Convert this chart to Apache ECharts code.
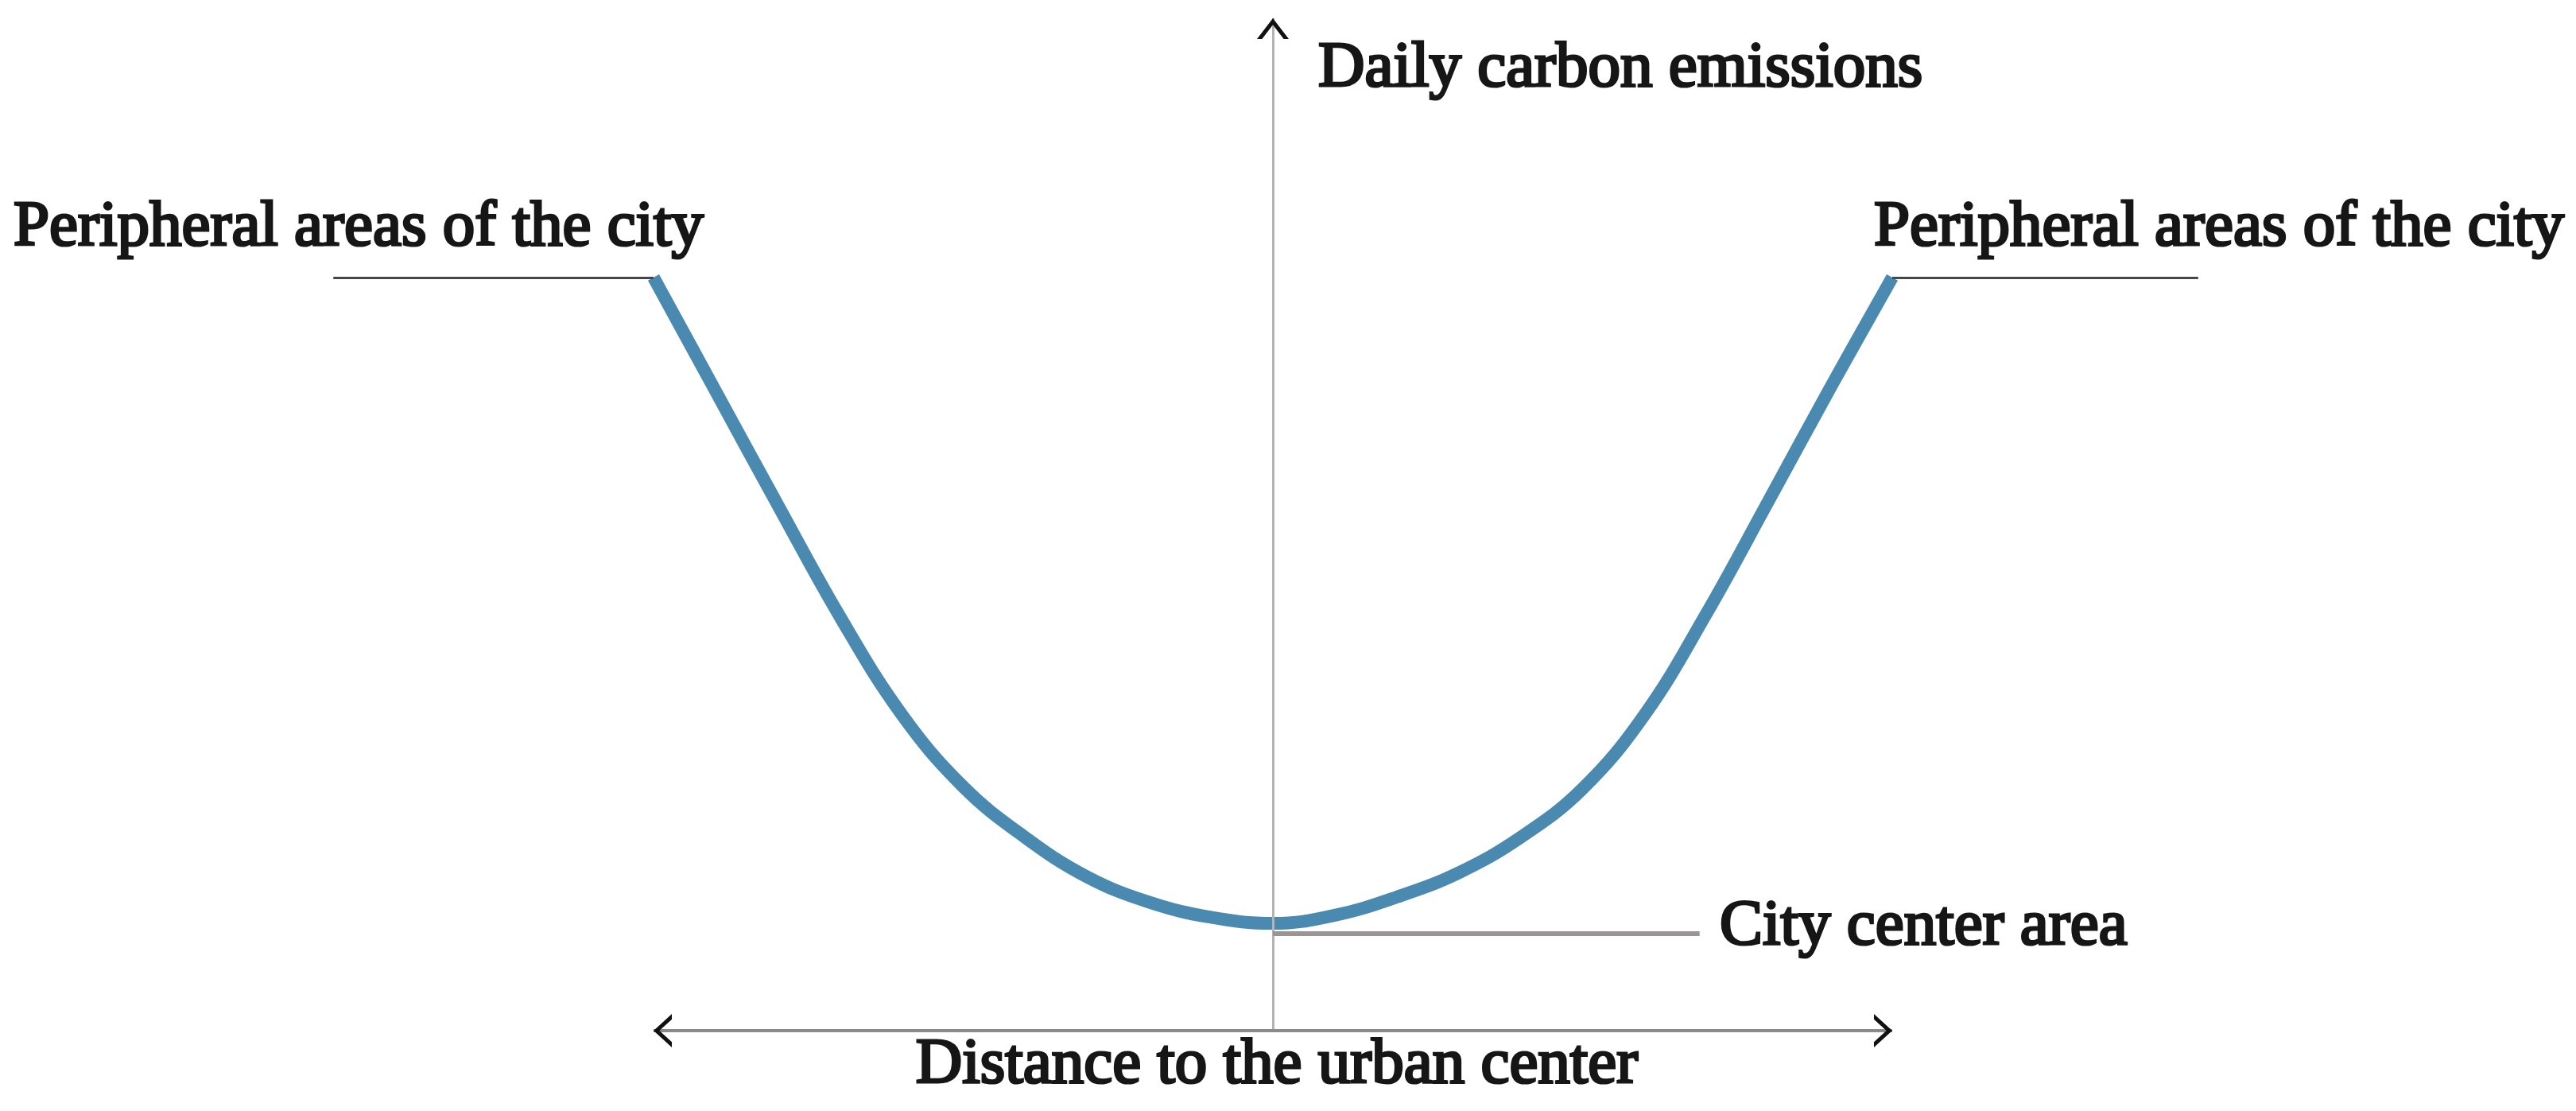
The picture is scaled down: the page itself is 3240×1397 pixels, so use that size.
<!DOCTYPE html>
<html>
<head>
<meta charset="utf-8">
<script src="https://cdn.jsdelivr.net/npm/echarts@6/dist/echarts.min.js"></script>
<style>
html,body{margin:0;padding:0;background:#ffffff;}
#chart{width:3240px;height:1397px;}
</style>
</head>
<body>
<div id="chart"></div>
<script>
// ---- data ----
// distance to the urban center (negative = one side, positive = other side)
const curveX = [-100, -90, -80, -70, -60, -50, -40, -30, -20, -10, 0,
                10, 20, 30, 40, 50, 60, 70, 80, 90, 100];
// daily carbon emissions (relative units)
const curveY = [74.4, 63.2, 52.0, 41.0, 31.3, 24.1, 19.1, 15.2, 12.7, 11.2, 10.6,
                11.4, 13.2, 15.6, 19.1, 23.9, 31.2, 41.2, 52.3, 63.5, 74.4];

const axisSpanX = [-100, 100];
const axisSpanY = [0, 100];
const peripheralLevel = 74.4;
const centerLevel = 9.6;
const leftLeaderX = [-151.7, -100];
const rightLeaderX = [100, 149.4];
const centerLeaderX = [0, 68.9];

const yTitle = 'Daily carbon emissions';
const xTitle = 'Distance to the urban center';
const peripheralText = 'Peripheral areas of the city';
const centerText = 'City center area';

// ---- chart ----
const FONT = '81px "Liberation Serif", "Times New Roman", serif';
const TXT = '#161616';
const chevron = 'path://M-50,100 L0,0 L50,100 L34,100 L0,32 L-34,100 Z M0,-100 L0.5,-100 L0,-100 Z';

function seg(x1, y1, x2, y2, style, sym1, sym2) {
  return [
    Object.assign({coord: [x1, y1], lineStyle: style}, sym1 || {symbol: 'none'}),
    Object.assign({coord: [x2, y2], lineStyle: style}, sym2 || {symbol: 'none'})
  ];
}

const vAxisStyle = {color: '#b4b4b4', width: 3, type: 'solid'};
const hAxisStyle = {color: '#8a8a8a', width: 4, type: 'solid'};
const leaderStyle = {color: '#474747', width: 3, type: 'solid'};
const centerStyle = {color: '#9a9594', width: 6, type: 'solid'};
const arrowStyle = {color: '#111111', width: 1, type: 'solid'};

const topArrow = {symbol: chevron, symbolSize: [40, 52]};
const sideArrow = {symbol: chevron, symbolSize: [42, 46]};
const tip = 0.05;

function txt(x, y, text, align) {
  return {
    type: 'text', x: x, y: y, silent: true, z: 10,
    style: {
      text: text, font: FONT, fill: TXT, stroke: TXT, lineWidth: 3.2,
      align: align || 'left', verticalAlign: 'middle',
      textAlign: align || 'left', textVerticalAlign: 'middle'
    }
  };
}

const chart = echarts.init(document.getElementById('chart'), null, {renderer: 'canvas'});
chart.setOption({
  backgroundColor: '#ffffff',
  animation: false,
  grid: {left: 0, right: 0, top: 0, bottom: 0},
  xAxis: {type: 'value', min: -205.52, max: 210.40, show: false},
  yAxis: {type: 'value', min: -7.93, max: 101.81, show: false},
  series: [
    {
      type: 'line',
      z: 1,
      silent: true,
      data: [],
      markLine: {
        silent: true,
        animation: false,
        symbol: ['none', 'none'],
        label: {show: false},
        emphasis: {disabled: true},
        data: [
          seg(0, axisSpanY[0], 0, axisSpanY[1], vAxisStyle),
          seg(axisSpanX[0], 0, axisSpanX[1], 0, hAxisStyle),
          seg(0, axisSpanY[1] - tip, 0, axisSpanY[1], arrowStyle, null, topArrow),
          seg(axisSpanX[0] + tip, 0, axisSpanX[0], 0, arrowStyle, null, sideArrow),
          seg(axisSpanX[1] - tip, 0, axisSpanX[1], 0, arrowStyle, null, sideArrow),
          seg(leftLeaderX[0], peripheralLevel, leftLeaderX[1], peripheralLevel, leaderStyle),
          seg(rightLeaderX[0], peripheralLevel, rightLeaderX[1], peripheralLevel, leaderStyle),
          seg(centerLeaderX[0], centerLevel, centerLeaderX[1], centerLevel, centerStyle)
        ]
      }
    },
    {
      type: 'line',
      z: 3,
      silent: true,
      smooth: 0.4,
      showSymbol: false,
      symbol: 'none',
      clip: false,
      lineStyle: {color: '#4a8ab0', width: 16, cap: 'butt'},
      emphasis: {disabled: true},
      data: curveX.map((x, i) => [x, curveY[i]])
    }
  ],
  graphic: [
    txt(1658, 87, yTitle),
    txt(17, 287, peripheralText),
    txt(2357, 287, peripheralText),
    txt(2163, 1166, centerText),
    txt(1606, 1340, xTitle, 'center')
  ]
});
</script>
</body>
</html>
